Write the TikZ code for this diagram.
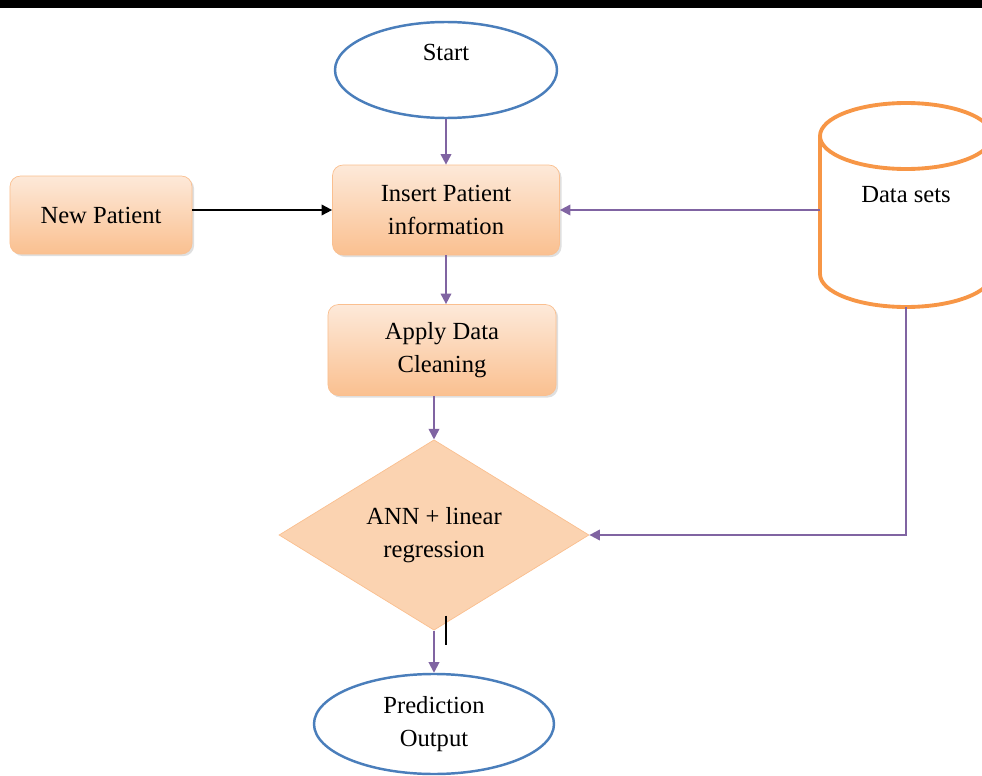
\documentclass[tikz,border=0pt]{standalone}
\usepackage{fontspec}
\setmainfont{Liberation Serif}
\usetikzlibrary{shapes.geometric, arrows.meta, shadows}
\definecolor{termblue}{RGB}{74,126,187}
\definecolor{linkviolet}{RGB}{128,100,162}
\definecolor{peachtop}{RGB}{253,233,217}
\definecolor{peachbot}{RGB}{250,192,144}
\definecolor{peachline}{RGB}{250,191,143}
\definecolor{cylorange}{RGB}{247,150,70}

\begin{document}
\begin{tikzpicture}[x=0.2mm, y=-0.2mm,
    every node/.style={font=\fontsize{14}{18.5}\selectfont, align=center},
    term/.style={ellipse, draw=termblue, line width=1.4pt, fill=white},
    proc/.style={rectangle, rounded corners=6pt, draw=peachline, top color=peachtop, bottom color=peachbot,
        drop shadow={opacity=0.25, shadow xshift=1.2pt, shadow yshift=-1.2pt}},
    decide/.style={diamond, draw=peachline, fill=peachbot!70!white, inner sep=0pt},
    cyl/.style={draw=cylorange, line width=2.2pt},
    link/.style={draw=linkviolet, line width=1pt, -{Triangle[length=6pt, width=6pt]}}]
        \useasboundingbox (0,0) rectangle (982,776);
        \fill[black] (0,0) rectangle (982,8);
        
        % flow nodes
        \node[term, minimum width=4.44cm, minimum height=1.92cm,
              label={[yshift=0.36cm]center:Start}] (start) at (446,70) {};
        \node[proc, minimum width=4.54cm, minimum height=1.8cm] (insert) at (446,210) {Insert Patient\\information};
        \node[proc, minimum width=3.64cm, minimum height=1.56cm] (newp) at (101,215) {New Patient};
        \node[proc, minimum width=4.56cm, minimum height=1.82cm] (apply) at (442,350) {Apply Data\\Cleaning};
        \node[decide, minimum width=6.2cm, minimum height=3.64cm] (ann) at (434,535) {ANN + linear\\regression};
        \node[term, minimum width=4.8cm, minimum height=2cm] (pred) at (434,724) {Prediction\\Output};
        
        % data store
        \draw[cyl] (820,136) -- (820,274) arc[start angle=180, end angle=0, x radius=86, y radius=33] -- (992,136);
        \draw[cyl] (906,136) ellipse[x radius=86, y radius=33];
        \node[minimum width=3.44cm, minimum height=4.08cm,
              label={[yshift=0.2cm]center:Data sets}] (data) at (906,205) {};
        
        % connectors
        \draw[link] (start) -- (insert);
        \draw[line width=1pt, -{Triangle[length=6pt, width=6pt]}] (newp.east |- insert.west) -- (insert.west);
        \draw[link] (data.west |- insert.east) -- (insert.east);
        \draw[link] (insert.south) -- (insert.south |- apply.north);
        \draw[link] (apply.south -| ann.north) -- (ann.north);
        \draw[link] (ann) -- (pred);
        \draw[link] (data.south) |- (ann.east);
        \draw[line width=1.2pt] ([xshift=0.24cm, yshift=0.3cm]ann.south) -- ++(0,29);
\end{tikzpicture}
\end{document}
